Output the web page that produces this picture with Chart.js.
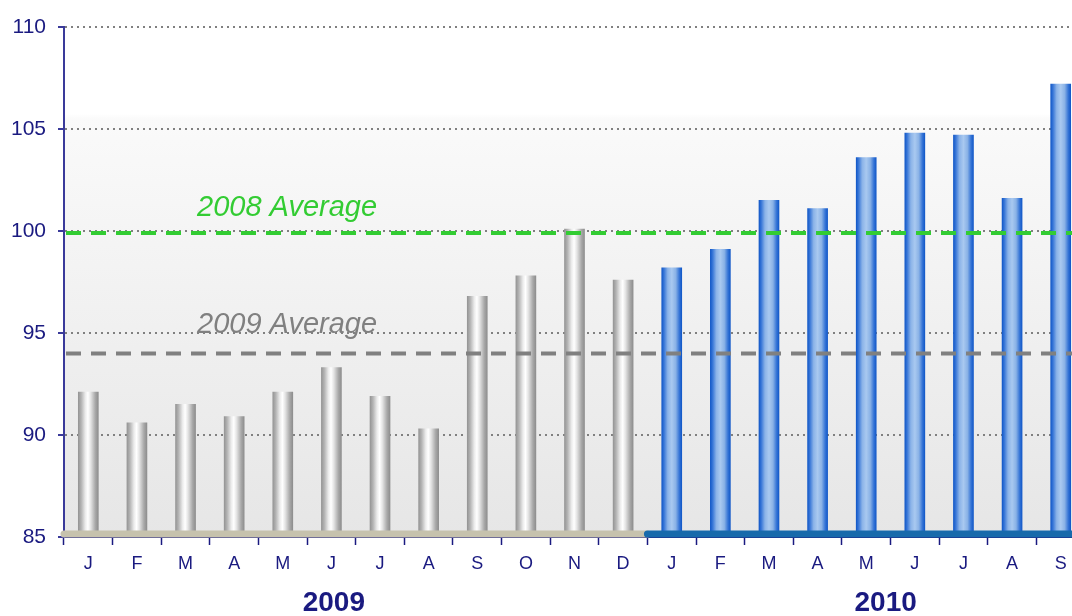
<!DOCTYPE html>
<html>
<head>
<meta charset="utf-8">
<script src="https://cdn.jsdelivr.net/npm/chart.js@4/dist/chart.umd.min.js"></script>
<style>
  html, body { margin: 0; padding: 0; background: #fff; overflow: hidden; }
  #wrap { position: relative; width: 1086px; height: 616px; }
</style>
</head>
<body>
<div id="wrap"><canvas id="chart"></canvas></div>
<script>
const months = ['J', 'F', 'M', 'A', 'M', 'J', 'J', 'A', 'S', 'O', 'N', 'D',
                'J', 'F', 'M', 'A', 'M', 'J', 'J', 'A', 'S'];
const values2009 = [92.1, 90.6, 91.5, 90.9, 92.1, 93.3, 91.9, 90.3, 96.8, 97.8, 100.1, 97.6];
const values2010 = [98.2, 99.1, 101.5, 101.1, 103.6, 104.8, 104.7, 101.6, 107.2];
const yearLabels = ['2009', '2010'];
const averageLabels = ['2008 Average', '2009 Average'];
const averageValues = [99.9, 94.0];
const yTicks = [85, 90, 95, 100, 105, 110];

const navy = '#1a1a80';
const font = '"Liberation Sans", Arial, sans-serif';

// 2009 bars take the first 12 slots, 2010 the rest
const data2009 = months.map((m, i) => i < values2009.length ? values2009[i] : null);
const data2010 = months.map((m, i) => i >= values2009.length ? values2010[i - values2009.length] : null);

const grayStops = [[0, '#959595'], [0.15, '#b4b4b4'], [0.35, '#ebebeb'], [0.48, '#ffffff'], [0.62, '#e4e4e4'], [0.85, '#a8a8a8'], [1, '#8e8e8e']];
const blueStops = [[0, '#1258c8'], [0.12, '#3a78d8'], [0.3, '#8bb3e8'], [0.5, '#a9c9f0'], [0.7, '#8ab2e6'], [0.88, '#3574d6'], [1, '#1258c8']];

function barGradient(context, stops) {
  const chart = context.chart;
  if (!chart.chartArea || !chart.scales.x) return stops[3][1];
  const x = chart.scales.x.getPixelForValue(context.dataIndex);
  const g = chart.ctx.createLinearGradient(x - 10, 0, x + 10, 0);
  stops.forEach(s => g.addColorStop(s[0], s[1]));
  return g;
}

const backgroundPlugin = {
  id: 'background',
  beforeDraw(chart) {
    const { ctx, chartArea: a } = chart;
    const g = ctx.createLinearGradient(0, a.top, 0, a.bottom);
    g.addColorStop(0, '#ffffff');
    g.addColorStop(0.17, '#ffffff');
    g.addColorStop(0.18, '#fafafa');
    g.addColorStop(1, '#e6e6e6');
    ctx.save();
    ctx.fillStyle = g;
    ctx.fillRect(a.left, a.top, a.right - a.left, a.bottom - a.top);
    ctx.restore();
  }
};

const decorPlugin = {
  id: 'decor',
  afterDatasetsDraw(chart) {
    const { ctx, chartArea: a, scales } = chart;
    const x = scales.x, y = scales.y;
    ctx.save();

    // average lines
    const avgColors = ['#33cc33', '#808080'];
    const textOffsets = [17, 20];
    averageValues.forEach((v, i) => {
      const py = y.getPixelForValue(v);
      ctx.strokeStyle = avgColors[i];
      ctx.lineWidth = 4;
      ctx.setLineDash([15, 10]);
      ctx.beginPath();
      ctx.moveTo(a.left + 2, py);
      ctx.lineTo(a.right, py);
      ctx.stroke();
      ctx.setLineDash([]);
      ctx.fillStyle = avgColors[i];
      ctx.font = 'italic 29px ' + font;
      ctx.textAlign = 'left';
      ctx.textBaseline = 'alphabetic';
      ctx.fillText(averageLabels[i], 197, py - textOffsets[i]);
    });

    // base strip under the bars
    const yb = y.getPixelForValue(85) - 3;
    const split = x.getPixelForValue(values2009.length - 0.5);
    ctx.lineWidth = 7;
    ctx.lineCap = 'round';
    ctx.strokeStyle = '#c6c2ad';
    ctx.beginPath();
    ctx.moveTo(a.left, yb);
    ctx.lineTo(split, yb);
    ctx.stroke();
    ctx.strokeStyle = '#176aab';
    ctx.beginPath();
    ctx.moveTo(split, yb);
    ctx.lineTo(a.right + 4, yb);
    ctx.stroke();
    ctx.restore();
  },
  afterDraw(chart) {
    const { ctx, scales } = chart;
    const at = [5.05, 16.4];
    ctx.save();
    ctx.fillStyle = navy;
    ctx.font = 'bold 28px ' + font;
    ctx.textAlign = 'center';
    ctx.textBaseline = 'middle';
    yearLabels.forEach((t, i) => {
      ctx.fillText(t, scales.x.getPixelForValue(at[i]), 603);
    });
    ctx.restore();
  }
};

new Chart(document.getElementById('chart'), {
  type: 'bar',
  data: {
    labels: months,
    datasets: [
      {
        label: '2009',
        data: data2009,
        backgroundColor: ctx => barGradient(ctx, grayStops),
        barThickness: 20,
        grouped: false
      },
      {
        label: '2010',
        data: data2010,
        backgroundColor: ctx => barGradient(ctx, blueStops),
        barThickness: 20,
        grouped: false
      }
    ]
  },
  options: {
    responsive: true,
    maintainAspectRatio: false,
    animation: false,
    layout: { padding: { top: 27, bottom: 39, left: 0, right: 1 } },
    plugins: {
      legend: { display: false },
      tooltip: { enabled: false }
    },
    scales: {
      x: {
        afterFit: s => { s.height = 40; },
        grid: {
          drawOnChartArea: false,
          tickLength: 8,
          tickColor: navy,
          tickWidth: 1.5
        },
        border: { color: navy, width: 2 },
        ticks: {
          color: navy,
          font: { family: font, size: 18 },
          padding: 8,
          maxRotation: 0,
          autoSkip: false
        }
      },
      y: {
        min: 85,
        max: 110,
        afterFit: s => { s.width = 64; },
        afterBuildTicks: s => { s.ticks = yTicks.map(v => ({ value: v })); },
        grid: {
          color: c => c.tick && c.tick.value === 85 ? 'rgba(0,0,0,0)' : '#808080',
          lineWidth: 2,
          tickLength: 6,
          tickColor: '#3a3a9a',
          tickWidth: 2
        },
        border: { color: '#3a3a9a', width: 2, dash: [2, 4] },
        ticks: {
          color: navy,
          font: { family: font, size: 21 },
          padding: 12
        }
      }
    }
  },
  plugins: [backgroundPlugin, decorPlugin]
});
</script>
</body>
</html>
